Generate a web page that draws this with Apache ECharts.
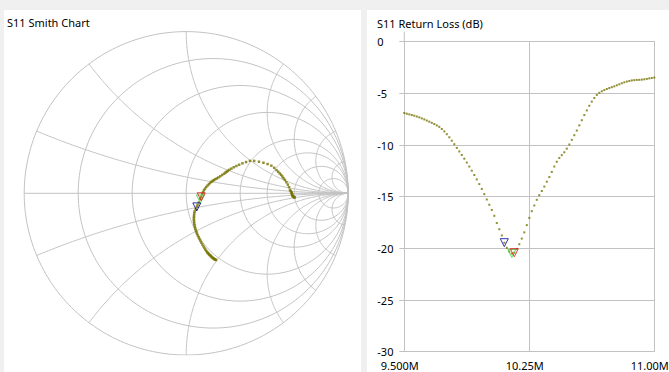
<!DOCTYPE html>
<html>
<head>
<meta charset="utf-8">
<script src="https://cdn.jsdelivr.net/npm/echarts@6/dist/echarts.min.js"></script>
<style>
html,body{margin:0;padding:0;background:#f0f0f0;}
#c{width:669px;height:372px;}
</style>
</head>
<body>
<div id="c"></div>
<script>
// ---------- data ----------
const freqMHz = [
  9.500, 9.515, 9.530, 9.545, 9.560, 9.575, 9.590, 9.605, 9.620, 9.635,
  9.650, 9.665, 9.680, 9.695, 9.710, 9.725, 9.740, 9.755, 9.770, 9.785,
  9.800, 9.815, 9.830, 9.845, 9.860, 9.875, 9.890, 9.905, 9.920, 9.935,
  9.950, 9.965, 9.980, 9.995, 10.010, 10.025, 10.040, 10.055, 10.070, 10.085,
  10.100, 10.115, 10.130, 10.145, 10.160, 10.175, 10.190, 10.205, 10.220, 10.235,
  10.250, 10.265, 10.280, 10.295, 10.310, 10.325, 10.340, 10.355, 10.370, 10.385,
  10.400, 10.415, 10.430, 10.445, 10.460, 10.475, 10.490, 10.505, 10.520, 10.535,
  10.550, 10.565, 10.580, 10.595, 10.610, 10.625, 10.640, 10.655, 10.670, 10.685,
  10.700, 10.715, 10.730, 10.745, 10.760, 10.775, 10.790, 10.805, 10.820, 10.835,
  10.850, 10.865, 10.880, 10.895, 10.910, 10.925, 10.940, 10.955, 10.970, 10.985,
  11.000
];
const returnLossDb = [
  -6.90, -6.97, -7.03, -7.10, -7.16, -7.24, -7.32, -7.42, -7.52, -7.63,
  -7.74, -7.85, -7.97, -8.10, -8.24, -8.45, -8.68, -8.95, -9.25, -9.58,
  -9.92, -10.28, -10.62, -10.96, -11.32, -11.70, -12.08, -12.48, -12.90, -13.33,
  -13.78, -14.25, -14.75, -15.27, -15.78, -16.28, -16.85, -17.55, -18.15, -18.75,
  -19.45, -19.95, -20.30, -20.50, -20.42, -20.05, -19.60, -19.05, -18.45, -17.75,
  -17.05, -16.40, -15.85, -15.30, -14.85, -14.45, -14.02, -13.55, -13.10, -12.60,
  -12.08, -11.62, -11.25, -10.98, -10.70, -10.35, -9.95, -9.50, -9.05, -8.60,
  -8.10, -7.60, -7.10, -6.65, -6.20, -5.80, -5.45, -5.15, -4.95, -4.80,
  -4.68, -4.58, -4.48, -4.40, -4.32, -4.22, -4.12, -4.02, -3.93, -3.86,
  -3.80, -3.75, -3.72, -3.70, -3.69, -3.67, -3.64, -3.60, -3.55, -3.51,
  -3.47
];
const phaseDeg = [
  -66.0, -66.3, -66.6, -66.9, -67.2, -67.5, -67.8, -68.1, -68.4, -68.7,
  -69.0, -69.4, -69.7, -70.1, -70.4, -70.8, -71.2, -71.6, -72.0, -72.5,
  -73.0, -73.4, -73.8, -74.2, -74.6, -75.0, -75.2, -75.4, -75.5, -75.5,
  -75.4, -75.1, -74.7, -74.0, -73.0, -71.8, -70.2, -68.0, -65.0, -59.5,
  -52.0, -46.0, -36.0, -22.0, -13.0, -3.0, 4.0, 10.0, 14.0, 17.5,
  20.0, 22.0, 23.5, 24.6, 25.2, 25.6, 25.8, 26.0, 26.2, 26.6,
  27.0, 27.4, 27.8, 28.1, 28.4, 28.6, 28.7, 28.7, 28.6, 28.4,
  28.1, 27.6, 27.0, 25.5, 23.5, 21.6, 19.8, 18.0, 16.2, 14.4,
  13.2, 12.0, 11.0, 9.9, 8.8, 7.7, 6.3, 4.9, 3.4, 1.8,
  1.2, 0.6, 0.1, -0.4, -0.8, -1.2, -1.5, -1.8, -2.0, -2.1,
  -2.2
];
const smithResistances = [0, 0.2, 0.5, 1, 2, 3, 5, 10];
const smithReactances = [0.2, 0.5, 1, 2, 3, 5, 10];
const markerFreqMHz = [10.100, 10.145, 10.160];
const markerColors = ['#000090', '#33d633', '#e01010'];
const xTickLabels = ['9.500M', '10.25M', '11.00M'];
const yMin = -30, yMax = 0, yStep = 5;
const titles = ['S11 Smith Chart', 'S11 Return Loss (dB)'];

// ---------- styling ----------
const FONT = '"Noto Sans", "DejaVu Sans", sans-serif';
const GRID_COLOR = '#c2c2c2';
const TRACE_COLOR = '#767300';
const F0 = freqMHz[0];
const xStep = (freqMHz[freqMHz.length - 1] - F0) / 2;

function gamma(i) {
  const m = Math.pow(10, returnLossDb[i] / 20);
  const a = phaseDeg[i] * Math.PI / 180;
  return [m * Math.cos(a), m * Math.sin(a)];
}
function arcPts(cx, cy, rad, a0, a1, n) {
  const pts = [];
  for (let k = 0; k <= n; k++) {
    const a = a0 + (a1 - a0) * k / n;
    pts.push([cx + rad * Math.cos(a), cy + rad * Math.sin(a)]);
  }
  return pts;
}
function gridLine(data) {
  return {
    type: 'line', xAxisIndex: 0, yAxisIndex: 0, data: data,
    showSymbol: false, symbol: 'none', silent: true, smooth: false,
    lineStyle: { color: GRID_COLOR, width: 1 }, z: 1, animation: false
  };
}

const series = [];
// constant resistance circles
smithResistances.forEach(r => {
  series.push(gridLine(arcPts(r / (1 + r), 0, 1 / (1 + r), 0, 2 * Math.PI, 240)));
});
// constant reactance arcs
smithReactances.forEach(x => {
  [1, -1].forEach(s => {
    const cy = 1 / x;
    const g0x = (x * x - 1) / (x * x + 1), g0y = 2 * x / (x * x + 1);
    let a0 = Math.atan2(g0y - cy, g0x - 1);
    let a1 = -Math.PI / 2;
    if (a0 > a1) a1 += 2 * Math.PI;
    const pts = arcPts(1, cy, 1 / x, a0, a1, 200).map(p => [p[0], s * p[1]]);
    series.push(gridLine(pts));
  });
});
// real axis
series.push(gridLine([[-1, 0], [1, 0]]));

// Smith trace
series.push({
  type: 'scatter', xAxisIndex: 0, yAxisIndex: 0, silent: true,
  data: freqMHz.map((f, i) => gamma(i)),
  symbol: 'rect', symbolSize: 2.5, itemStyle: { color: TRACE_COLOR }, z: 3, animation: false
});
// Return loss trace
series.push({
  type: 'scatter', xAxisIndex: 1, yAxisIndex: 1, silent: true,
  data: freqMHz.map((f, i) => [f - F0, returnLossDb[i]]),
  symbol: 'rect', symbolSize: 2, itemStyle: { color: TRACE_COLOR }, z: 3, animation: false
});
// markers
markerFreqMHz.forEach((mf, k) => {
  let idx = 0;
  freqMHz.forEach((f, i) => { if (Math.abs(f - mf) < Math.abs(freqMHz[idx] - mf)) idx = i; });
  const style = { color: 'rgba(0,0,0,0)', borderColor: markerColors[k], borderWidth: 1 };
  series.push({
    type: 'scatter', xAxisIndex: 0, yAxisIndex: 0, silent: true,
    data: [gamma(idx)], symbol: 'triangle', symbolRotate: 180, symbolSize: [8, 8],
    itemStyle: style, z: 5 + k, animation: false
  });
  series.push({
    type: 'scatter', xAxisIndex: 1, yAxisIndex: 1, silent: true,
    data: [[freqMHz[idx] - F0, returnLossDb[idx]]], symbol: 'triangle', symbolRotate: 180, symbolSize: [8, 8],
    itemStyle: style, z: 5 + k, animation: false
  });
});

const chart = echarts.init(document.getElementById('c'), null, { renderer: 'svg' });
const labelStyle = { color: '#000', fontFamily: FONT, fontSize: 11 };
chart.setOption({
  backgroundColor: '#f0f0f0',
  animation: false,
  graphic: [
    { type: 'rect', id: 'p1', shape: { x: 4, y: 10, width: 357, height: 362 }, style: { fill: '#ffffff' }, z: -10, silent: true },
    { type: 'rect', id: 'p2', shape: { x: 367, y: 10, width: 302, height: 362 }, style: { fill: '#ffffff' }, z: -10, silent: true },
    { type: 'text', id: 't1', x: 7, y: 22.5, style: { text: titles[0], font: '11px ' + FONT, fill: '#000', verticalAlign: 'middle' }, z: 10 },
    { type: 'text', id: 't2', x: 377, y: 23.5, style: { text: titles[1], font: '11px ' + FONT, fill: '#000', verticalAlign: 'middle' }, z: 10 }
  ],
  grid: [
    { left: 24.2, top: 31.6, width: 324, height: 323.4, containLabel: false, outerBoundsMode: 'none', show: false },
    { left: 404.3, top: 41.7, width: 250, height: 310, containLabel: false, outerBoundsMode: 'none', show: false }
  ],
  xAxis: [
    { gridIndex: 0, type: 'value', min: -1, max: 1, show: false },
    {
      gridIndex: 1, type: 'value', min: 0, max: 2 * xStep, interval: xStep,
      axisLine: { show: true, lineStyle: { color: GRID_COLOR, width: 1 } },
      axisTick: { show: true, length: 5, lineStyle: { color: GRID_COLOR, width: 1 } },
      splitLine: { show: true, lineStyle: { color: GRID_COLOR, width: 1 } },
      axisLabel: Object.assign({ margin: 8, padding: [0, 9, 0, 0], formatter: v => xTickLabels[Math.round(v / xStep)], showMinLabel: true, showMaxLabel: true, hideOverlap: false }, labelStyle)
    }
  ],
  yAxis: [
    { gridIndex: 0, type: 'value', min: -1, max: 1, show: false },
    {
      gridIndex: 1, type: 'value', min: yMin, max: yMax, interval: yStep,
      axisLine: { show: true, lineStyle: { color: GRID_COLOR, width: 1 } },
      axisTick: { show: true, length: 5, lineStyle: { color: GRID_COLOR, width: 1 } },
      splitLine: { show: true, lineStyle: { color: GRID_COLOR, width: 1 } },
      axisLabel: Object.assign({ margin: 27, align: 'left', showMinLabel: true, showMaxLabel: true, hideOverlap: false }, labelStyle)
    }
  ],
  series: series
});
// extend the y axis line above the plot, like the original widget
const top0 = chart.convertToPixel({ gridIndex: 1 }, [0, yMax]);
chart.setOption({
  graphic: [
    { type: 'line', id: 'yext', shape: { x1: top0[0], y1: top0[1] - 10, x2: top0[0], y2: top0[1] }, style: { stroke: GRID_COLOR, lineWidth: 1 }, z: 1, silent: true }
  ]
});
</script>
</body>
</html>
